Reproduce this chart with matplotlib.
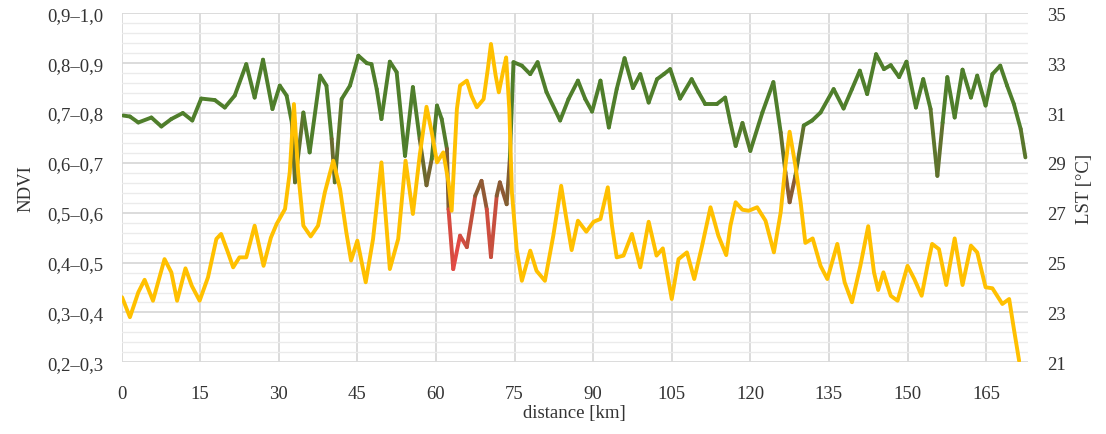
import numpy as np
import matplotlib
matplotlib.use("Agg")
import matplotlib.pyplot as plt
from matplotlib.collections import LineCollection
from matplotlib.colors import LinearSegmentedColormap, Normalize
from matplotlib.ticker import MultipleLocator, FixedLocator

# ---------------- data ----------------
ndvi_dist = [0.3, 1.6, 3.2, 5.7, 7.6, 9.5, 11.7, 13.5, 15.2, 17.8, 19.7, 21.6, 23.8, 25.4, 27.0,
             28.8, 30.2, 31.5, 32.5, 33.1, 34.7, 35.9, 37.9, 39.1, 40.1, 40.7, 42.0, 43.6, 45.2,
             46.8, 47.7, 48.7, 49.6, 51.2, 52.5, 54.1, 55.6, 56.9, 58.2, 59.2, 60.2, 61.1, 62.1,
             62.4, 63.3, 64.6, 65.9, 67.5, 68.7, 69.7, 70.5, 71.6, 72.2, 73.5, 74.1, 74.8, 76.4,
             78.0, 79.4, 81.1, 83.7, 85.3, 87.1, 88.5, 89.8, 91.4, 93.0, 94.5, 96.0, 97.6, 99.0,
             100.6, 102.2, 103.5, 104.7, 106.6, 108.8, 110.1, 111.4, 113.6, 115.2, 116.2, 117.2,
             118.5, 120.0, 122.3, 124.4, 125.8, 126.7, 127.5, 128.6, 130.2, 131.8, 133.4, 135.9,
             137.8, 139.4, 140.9, 142.3, 144.0, 145.5, 146.8, 148.4, 149.8, 151.6, 153.0, 154.4,
             155.7, 156.7, 157.6, 159.0, 160.5, 162.1, 163.3, 164.9, 166.2, 167.7, 169.0, 170.3,
             171.6, 172.5]
ndvi = [0.695, 0.693, 0.681, 0.691, 0.673, 0.688, 0.700, 0.685, 0.729, 0.726, 0.711, 0.735, 0.798,
        0.731, 0.807, 0.708, 0.755, 0.735, 0.681, 0.561, 0.701, 0.621, 0.775, 0.755, 0.648, 0.561,
        0.728, 0.755, 0.815, 0.800, 0.798, 0.748, 0.688, 0.803, 0.782, 0.614, 0.752, 0.648, 0.555,
        0.608, 0.715, 0.688, 0.628, 0.507, 0.387, 0.454, 0.431, 0.534, 0.564, 0.507, 0.411, 0.534,
        0.561, 0.517, 0.608, 0.802, 0.795, 0.778, 0.802, 0.742, 0.685, 0.728, 0.765, 0.728, 0.703,
        0.765, 0.671, 0.748, 0.810, 0.750, 0.778, 0.721, 0.768, 0.778, 0.788, 0.729, 0.768, 0.742,
        0.718, 0.718, 0.731, 0.681, 0.634, 0.680, 0.624, 0.701, 0.762, 0.661, 0.581, 0.521, 0.574,
        0.675, 0.685, 0.701, 0.748, 0.709, 0.748, 0.785, 0.738, 0.818, 0.788, 0.796, 0.772, 0.803,
        0.711, 0.768, 0.708, 0.574, 0.681, 0.772, 0.691, 0.787, 0.731, 0.775, 0.715, 0.778, 0.795,
        0.755, 0.718, 0.668, 0.611]

lst_dist = [0.1, 1.6, 3.2, 4.4, 6.0, 8.2, 9.5, 10.6, 12.2, 13.4, 14.9, 16.5, 18.1, 19.0, 20.3,
            21.3, 22.5, 23.8, 25.4, 27.1, 28.5, 29.6, 31.2, 32.1, 32.9, 33.7, 34.7, 36.1, 37.5,
            38.8, 40.4, 41.7, 42.9, 43.8, 45.0, 46.6, 48.0, 49.6, 51.2, 52.8, 54.2, 55.6, 56.9,
            58.2, 59.2, 60.2, 61.4, 62.4, 63.0, 64.0, 64.6, 65.9, 66.8, 67.8, 69.1, 69.9, 70.5,
            71.4, 72.0, 72.9, 73.4, 74.0, 74.5, 75.4, 76.4, 78.0, 79.2, 80.8, 82.4, 83.9, 84.8,
            85.9, 87.1, 88.7, 90.1, 91.4, 92.8, 93.6, 94.5, 95.8, 97.4, 99.0, 100.6, 102.1, 103.3,
            105.0, 106.3, 107.9, 109.3, 110.8, 112.4, 113.9, 115.4, 116.2, 117.2, 118.5, 119.7,
            121.3, 122.9, 124.5, 125.8, 126.7, 127.5, 128.6, 129.6, 130.5, 131.9, 133.4, 134.7,
            136.6, 138.0, 139.4, 141.0, 142.5, 143.6, 144.4, 145.4, 146.8, 148.1, 150.0, 151.3,
            152.7, 153.8, 154.7, 156.0, 157.4, 159.0, 160.5, 162.1, 163.3, 164.9, 166.2, 168.1,
            169.4, 170.3, 171.3]
lst = [23.61, 22.81, 23.81, 24.31, 23.47, 25.14, 24.61, 23.47, 24.77, 24.07, 23.47, 24.41, 25.95,
       26.15, 25.41, 24.81, 25.21, 25.21, 26.48, 24.87, 26.00, 26.55, 27.15, 28.62, 31.36, 28.62,
       26.48, 26.05, 26.48, 27.82, 29.09, 27.95, 26.21, 25.08, 25.88, 24.21, 25.95, 29.02, 24.74,
       25.95, 29.09, 26.95, 29.29, 31.25, 30.23, 29.02, 29.42, 28.22, 27.08, 31.16, 32.10, 32.30,
       31.69, 31.23, 31.56, 32.76, 33.77, 32.50, 31.83, 32.76, 33.23, 31.16, 27.82, 25.54, 24.27,
       25.48, 24.67, 24.27, 26.08, 28.08, 26.88, 25.50, 26.68, 26.24, 26.64, 26.75, 28.02, 26.48,
       25.21, 25.28, 26.15, 24.81, 26.64, 25.28, 25.57, 23.54, 25.14, 25.41, 24.34, 25.68, 27.22,
       26.08, 25.30, 26.48, 27.42, 27.12, 27.08, 27.22, 26.68, 25.41, 27.02, 28.89, 30.25, 28.89,
       27.42, 25.79, 25.97, 24.87, 24.34, 25.75, 24.21, 23.41, 24.87, 26.46, 24.61, 23.90, 24.61,
       23.67, 23.47, 24.87, 24.34, 23.67, 24.87, 25.75, 25.54, 24.10, 25.97, 24.10, 25.68, 25.41,
       24.01, 23.97, 23.34, 23.54, 22.34, 21.06]

x_ticks = [0, 15, 30, 45, 60, 75, 90, 105, 120, 135, 150, 165]
ndvi_ticks = [0.2, 0.3, 0.4, 0.5, 0.6, 0.7, 0.8, 0.9]
ndvi_labels = ["0,2–0,3", "0,3–0,4", "0,4–0,5", "0,5–0,6", "0,6–0,7", "0,7–0,8", "0,8–0,9", "0,9–1,0"]
lst_ticks = [21, 23, 25, 27, 29, 31, 33, 35]

# ---------------- style ----------------
plt.rcParams['font.family'] = ['Liberation Serif', 'DejaVu Serif']
FS = 13.5
GRID_MAJOR = '#D9D9D9'
GRID_MINOR = '#EBEBEB'
TXT = '#333333'

fig = plt.figure(figsize=(11.06, 4.35), dpi=100)
ax = fig.add_axes([0.1099, 0.1648, 0.8196, 0.8023])
ax2 = ax.twinx()

ax.set_xlim(0, 173)
ax.set_ylim(0.2, 0.9)
ax2.set_ylim(21, 35)

ax.xaxis.set_major_locator(FixedLocator(x_ticks))
ax.yaxis.set_major_locator(FixedLocator(ndvi_ticks))
ax.set_yticklabels(ndvi_labels)
ax.yaxis.set_minor_locator(MultipleLocator(0.02))
ax2.yaxis.set_major_locator(FixedLocator(lst_ticks))

ax.grid(True, which='major', axis='both', color=GRID_MAJOR, lw=1.3, zorder=0)
ax.grid(True, which='minor', axis='y', color=GRID_MINOR, lw=1.0, zorder=0)
ax.set_axisbelow(True)

for a in (ax, ax2):
    for s in a.spines.values():
        s.set_visible(False)
ax.tick_params(axis='both', which='both', length=0, labelsize=FS, labelcolor=TXT)
ax.tick_params(axis='y', pad=13)
ax.tick_params(axis='x', pad=16)
ax2.tick_params(axis='y', length=0, labelsize=FS, labelcolor=TXT, pad=14)

ax.set_xlabel('distance [km]', fontsize=FS, color=TXT, labelpad=2)
ax.set_ylabel('NDVI', fontsize=FS, color=TXT, labelpad=9)
ax2.set_ylabel('LST [°C]', fontsize=FS, color=TXT, labelpad=7)

# green NDVI line colored by value
cmap = LinearSegmentedColormap.from_list('ndvi', [
    (0.0, '#F04848'),
    (0.30, '#C0503C'),
    (0.55, '#8A5A34'),
    (0.75, '#6A6A2E'),
    (1.0, '#4F7E2B'),
])
norm = Normalize(0.39, 0.66)
xg = np.asarray(ndvi_dist)
yg = np.asarray(ndvi)
pts = np.column_stack([xg, yg]).reshape(-1, 1, 2)
segs = np.concatenate([pts[:-1], pts[1:]], axis=1)
mid = np.minimum(yg[:-1], yg[1:]) * 0.6 + np.maximum(yg[:-1], yg[1:]) * 0.4
lc = LineCollection(segs, colors=cmap(norm(mid)), linewidths=2.8,
                    capstyle='round', joinstyle='round', zorder=3)
ax.add_collection(lc)

ax2.plot(lst_dist, lst, color='#FFC000', lw=2.8, solid_joinstyle='round',
         solid_capstyle='round', zorder=3)

fig.savefig('out.png', dpi=100)
